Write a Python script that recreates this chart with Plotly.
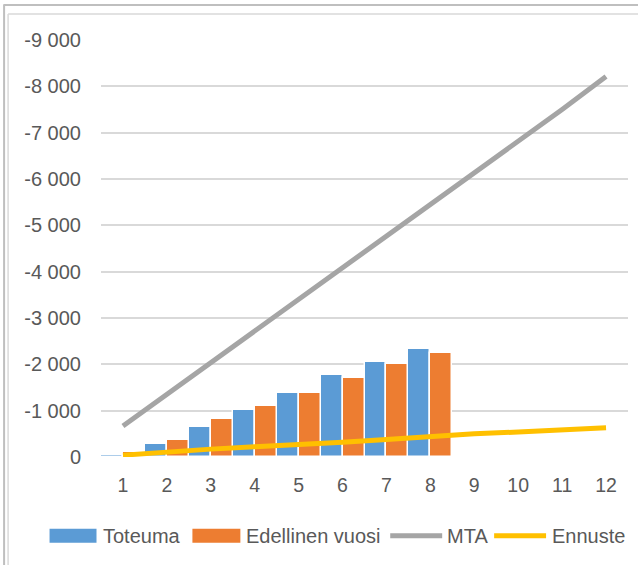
import plotly.graph_objects as go

# ---- data ----
categories = [1, 2, 3, 4, 5, 6, 7, 8, 9, 10, 11, 12]
toteuma = [-40, -290, -650, -1015, -1390, -1760, -2050, -2330]
edellinen_vuosi = [-115, -360, -820, -1095, -1390, -1710, -2015, -2240]
mta = [-670, -1350, -2040, -2720, -3390, -4080, -4780, -5460, -6140, -6820, -7500, -8210]
ennuste = [-40, -110, -170, -220, -260, -320, -380, -450, -500, -540, -580, -630]
series_names = ["Toteuma", "Edellinen vuosi", "MTA", "Ennuste"]
y_tickvals = [0, -1000, -2000, -3000, -4000, -5000, -6000, -7000, -8000, -9000]
y_ticktext = ["0", "-1 000", "-2 000", "-3 000", "-4 000",
              "-5 000", "-6 000", "-7 000", "-8 000", "-9 000"]

# ---- styling ----
W, H = 638, 565
L, R, T, B = 100.5, 10, 39.5, 108.3
colors = ["#5B9BD5", "#ED7D31", "#A5A5A5", "#FFC000"]
txt = "#595959"
font = "Liberation Sans, Arial, sans-serif"

pw = W - L - R
ph = H - T - B


def px(x):
    return (x - L) / pw


def py(y):
    return (H - B - y) / ph


fig = go.Figure()
fig.add_trace(go.Bar(x=categories[:len(toteuma)], y=toteuma, name=series_names[0],
                     marker=dict(color=colors[0], line=dict(color="white", width=1.5))))
fig.add_trace(go.Bar(x=categories[:len(edellinen_vuosi)], y=edellinen_vuosi, name=series_names[1],
                     marker=dict(color=colors[1], line=dict(color="white", width=1.5))))
fig.add_trace(go.Scatter(x=categories, y=mta, name=series_names[2], mode="lines",
                         line=dict(color=colors[2], width=5)))
fig.add_trace(go.Scatter(x=categories, y=ennuste, name=series_names[3], mode="lines",
                         line=dict(color=colors[3], width=5)))

shapes = []
# outer frame lines (worksheet borders)
shapes.append(dict(type="line", xref="paper", yref="paper", x0=px(3), x1=px(W + 5),
                   y0=py(4.5), y1=py(4.5), line=dict(color="#BFBFBF", width=2)))
shapes.append(dict(type="line", xref="paper", yref="paper", x0=px(3.5), x1=px(3.5),
                   y0=py(4), y1=py(H + 5), line=dict(color="#BFBFBF", width=2)))
# chart area border
shapes.append(dict(type="line", xref="paper", yref="paper", x0=px(7.5), x1=px(W + 5),
                   y0=py(13.5), y1=py(13.5), line=dict(color="#D9D9D9", width=1.5)))
shapes.append(dict(type="line", xref="paper", yref="paper", x0=px(7.5), x1=px(7.5),
                   y0=py(13.5), y1=py(H + 5), line=dict(color="#D9D9D9", width=1.5)))

# custom legend
leg_y = 535.5
annotations = []
items = [
    ("rect", 49, 96, 101, series_names[0], colors[0]),
    ("rect", 192, 240, 244, series_names[1], colors[1]),
    ("line", 390, 442, 445, series_names[2], colors[2]),
    ("line", 494, 546, 550, series_names[3], colors[3]),
]
for kind, x0, x1, tx, name, c in items:
    if kind == "rect":
        shapes.append(dict(type="rect", xref="paper", yref="paper", x0=px(x0), x1=px(x1),
                           y0=py(leg_y - 7), y1=py(leg_y + 7), fillcolor=c, line=dict(width=0)))
    else:
        shapes.append(dict(type="line", xref="paper", yref="paper", x0=px(x0), x1=px(x1),
                           y0=py(leg_y), y1=py(leg_y), line=dict(color=c, width=5)))
    annotations.append(dict(xref="paper", yref="paper", x=px(tx), y=py(leg_y), text=name,
                            showarrow=False, xanchor="left", yanchor="middle",
                            font=dict(family=font, size=20, color=txt)))

fig.update_layout(
    width=W, height=H,
    margin=dict(l=L, r=R, t=T, b=B, pad=0),
    paper_bgcolor="white", plot_bgcolor="white",
    barmode="group", bargap=0, bargroupgap=0,
    showlegend=False,
    shapes=shapes, annotations=annotations,
    font=dict(family=font, size=19, color=txt),
    xaxis=dict(range=[0.5, 12.5], tickvals=categories, ticktext=[str(c) for c in categories],
               showgrid=False, zeroline=False, showline=False, ticks="",
               ticklabelstandoff=14, tickfont=dict(size=19.5, color=txt), fixedrange=True),
    yaxis=dict(range=[0, -9000], tickvals=y_tickvals, ticktext=y_ticktext,
               showgrid=True, gridcolor="#D9D9D9", gridwidth=1.5,
               zeroline=False, showline=False, ticks="",
               ticklabelstandoff=19, tickfont=dict(size=20, color=txt), fixedrange=True),
)

fig.write_html("out.html", config={"displayModeBar": False},
               post_script="document.body.style.margin='0';document.body.style.padding='0';")
